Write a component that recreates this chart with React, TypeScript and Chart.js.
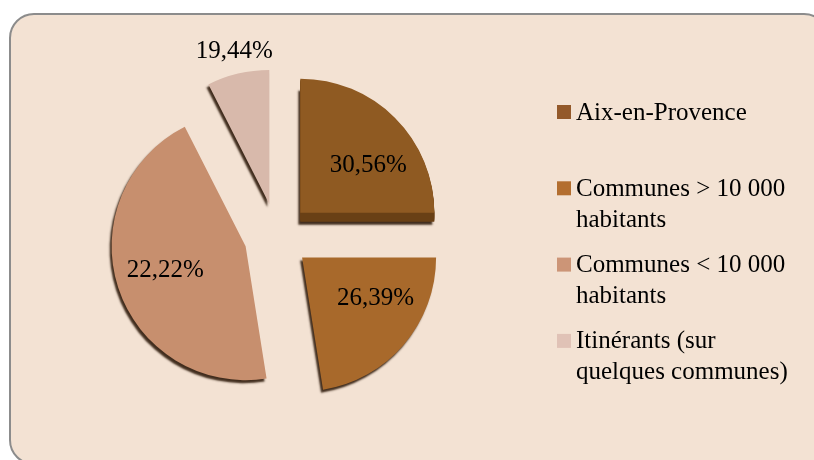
import React, { useEffect, useRef } from 'react';
import { Chart, registerables } from 'chart.js';

Chart.register(...registerables);

// ---- Data ----
const categories = [
  'Aix-en-Provence',
  'Communes > 10 000 habitants',
  'Communes < 10 000 habitants',
  'Itinérants (sur quelques communes)',
];
const legendLines = [
  ['Aix-en-Provence'],
  ['Communes > 10 000', 'habitants'],
  ['Communes < 10 000', 'habitants'],
  ['Itinérants (sur', 'quelques communes)'],
];
// apparent slice sizes as drawn (degrees of the 3-D pie)
const sliceDegrees = [90, 81, 162, 27];
// percentage labels printed on the slices
const percentValues = [30.56, 26.39, 22.22, 19.44];
const sliceColors = ['#8F5A22', '#A8692B', '#C78F6E', '#D8B9AB'];
const legendColors = ['#93592A', '#B36E2F', '#CC9577', '#E0C2B6'];

// ---- Styling ----
const FONT_FAMILY = '"Liberation Serif", "Times New Roman", serif';
const EXPLODE = 33;
const RADIUS = 134;
const DEPTHS = [9, 0, 0, 0];
const DEPTH_COLORS = ['#6A4016', '#7A4A1C', '#8E6048', '#9A8278'];
const LABEL_PLACE = [
  { turn: 10, dist: 83 },
  { turn: -11.5, dist: 84 },
  { turn: 1, dist: 84 },
  { turn: 0.5, dist: 156 },
];

const fmt = (v: number) => v.toFixed(2).replace('.', ',') + '%';

const panelPlugin = {
  id: 'panel',
  beforeDraw(chart: any) {
    const ctx = chart.ctx;
    ctx.save();
    ctx.fillStyle = '#FFFFFF';
    ctx.fillRect(0, 0, chart.width, chart.height);
    const x = 10, y = 14, w = 818, h = 450, r = 24;
    ctx.beginPath();
    ctx.moveTo(x + r, y);
    ctx.lineTo(x + w - r, y);
    ctx.arcTo(x + w, y, x + w, y + r, r);
    ctx.lineTo(x + w, y + h - r);
    ctx.arcTo(x + w, y + h, x + w - r, y + h, r);
    ctx.lineTo(x + r, y + h);
    ctx.arcTo(x, y + h, x, y + h - r, r);
    ctx.lineTo(x, y + r);
    ctx.arcTo(x, y, x + r, y, r);
    ctx.closePath();
    ctx.fillStyle = '#F3E2D3';
    ctx.fill();
    ctx.lineWidth = 2;
    ctx.strokeStyle = '#8C8C8C';
    ctx.stroke();
    ctx.restore();
  },
};

const explodePlugin = {
  id: 'explode3d',
  beforeDatasetDraw(chart: any, args: any) {
    args.meta.data.forEach((arc: any, i: number) => {
      if (arc.__wrapped) return;
      const orig = Object.getPrototypeOf(arc).draw;
      arc.draw = function (ctx: CanvasRenderingContext2D) {
        const mid = (this.startAngle + this.endAngle) / 2;
        const dx = Math.cos(mid) * EXPLODE;
        const dy = Math.sin(mid) * EXPLODE;
        ctx.save();
        ctx.translate(dx, dy);
        const depth = DEPTHS[i] || 0;
        const setShadow = () => {
          ctx.shadowColor = 'rgba(45,25,10,0.9)';
          ctx.shadowOffsetX = -2;
          ctx.shadowOffsetY = 3;
          ctx.shadowBlur = 2;
        };
        const clearShadow = () => {
          ctx.shadowColor = 'rgba(0,0,0,0)';
          ctx.shadowOffsetX = 0;
          ctx.shadowOffsetY = 0;
          ctx.shadowBlur = 0;
        };
        if (depth > 0) {
          const fake = Object.create(this);
          fake.options = Object.assign({}, this.options, {
            backgroundColor: DEPTH_COLORS[i],
            borderWidth: 0,
          });
          for (let k = depth; k >= 1; k--) {
            ctx.save();
            if (k === depth) setShadow(); else clearShadow();
            ctx.translate(0, k);
            orig.call(fake, ctx);
            ctx.restore();
          }
          clearShadow();
        } else {
          setShadow();
        }
        orig.call(this, ctx);
        ctx.restore();
      };
      arc.__wrapped = true;
    });
  },
};

const labelsPlugin = {
  id: 'sliceLabels',
  afterDatasetsDraw(chart: any) {
    const ctx = chart.ctx;
    const meta = chart.getDatasetMeta(0);
    ctx.save();
    ctx.font = `25px ${FONT_FAMILY}`;
    ctx.fillStyle = '#000000';
    ctx.textAlign = 'center';
    ctx.textBaseline = 'middle';
    meta.data.forEach((arc: any, i: number) => {
      const mid = (arc.startAngle + arc.endAngle) / 2;
      const ax = arc.x + Math.cos(mid) * EXPLODE;
      const ay = arc.y + Math.sin(mid) * EXPLODE;
      const p = LABEL_PLACE[i];
      const a = mid + (p.turn * Math.PI) / 180;
      ctx.fillText(fmt(percentValues[i]), ax + Math.cos(a) * p.dist, ay + Math.sin(a) * p.dist);
    });
    ctx.restore();
  },
  afterDraw(chart: any) {
    const ctx = chart.ctx;
    ctx.save();
    ctx.font = `25px ${FONT_FAMILY}`;
    ctx.textAlign = 'left';
    ctx.textBaseline = 'middle';
    legendLines.forEach((lines, i) => {
      const y0 = 112 + i * 76.3;
      ctx.fillStyle = legendColors[i];
      ctx.fillRect(557, y0 - 7, 14, 14);
      ctx.fillStyle = '#000000';
      lines.forEach((t, j) => ctx.fillText(t, 576, y0 + 1 + j * 31));
    });
    ctx.restore();
  },
};

export default function App() {
  const ref = useRef<HTMLCanvasElement | null>(null);
  useEffect(() => {
    if (!ref.current) return;
    const chart = new Chart(ref.current, {
      type: 'pie',
      data: {
        labels: categories,
        datasets: [
          {
            data: sliceDegrees,
            backgroundColor: sliceColors,
            borderWidth: 0,
          },
        ],
      },
      options: {
        responsive: false,
        animation: false,
        radius: RADIUS,
        layout: { padding: { left: 0, right: 260, top: 12, bottom: 0 } },
        plugins: {
          legend: { display: false },
          tooltip: { enabled: false },
        },
      } as any,
      plugins: [panelPlugin, explodePlugin, labelsPlugin],
    });
    return () => chart.destroy();
  }, []);
  return (
    <div style={{ position: 'fixed', left: 0, top: 0, width: 814, height: 460, background: '#fff' }}>
      <canvas ref={ref} width={814} height={460} style={{ display: 'block' }} />
    </div>
  );
}
